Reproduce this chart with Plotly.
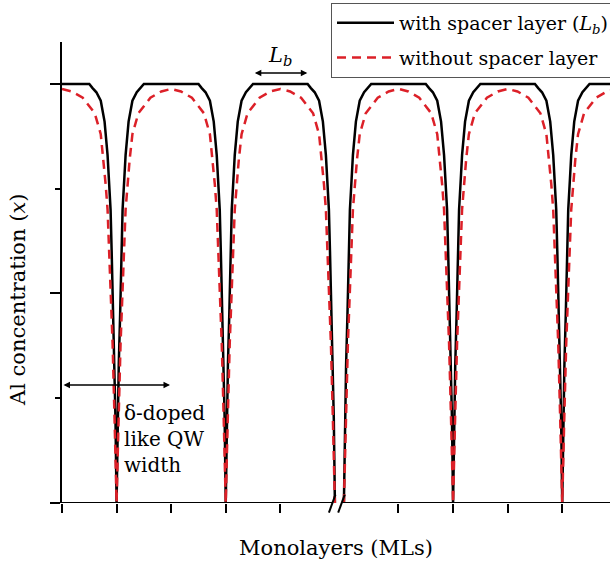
import plotly.graph_objects as go

# Half-well profiles: distance from a dip centre (in tick units) -> Al fraction
spacer_d = [0, 0.02, 0.04, 0.065, 0.09, 0.11, 0.14, 0.165, 0.22, 0.29, 0.37, 0.44, 0.5, 1.0]
spacer_x = [0, 0.2, 0.33, 0.45, 0.6, 0.7, 0.77, 0.83, 0.91, 0.96, 0.98, 0.99, 1.0, 1.0]
nospacer_d = [0, 0.037, 0.073, 0.165, 0.2, 0.24, 0.29, 0.4, 0.62, 0.82, 1.0]
nospacer_x = [0, 0.2, 0.38, 0.7, 0.76, 0.82, 0.88, 0.93, 0.967, 0.982, 0.988]

# dip (delta-doped) positions on the two sides of the axis break
left_dips = [1, 3, 5]
right_dips = [5.165, 7.165, 9.165]
tick_pos = [0, 1, 2, 3, 4, 6.165, 7.165, 8.165, 9.165]
break_pos = [4.89, 5.06]

legend_names = ["with spacer layer (<i>L<sub>b</sub></i>)", "without spacer layer"]


def build(d, v, dips, start_left, end_right):
    xs, ys = [], []
    for i, dip in enumerate(dips):
        if i > 0 or start_left:
            for dd, vv in zip(reversed(d), reversed(v)):
                xs.append(dip - dd)
                ys.append(vv)
        if i < len(dips) - 1 or end_right:
            for dd, vv in zip(d, v):
                xs.append(dip + dd)
                ys.append(vv)
    return xs, ys


def curve(d, v):
    x1, y1 = build(d, v, left_dips, True, False)
    x2, y2 = build(d, v, right_dips, False, True)
    return x1 + [None] + x2, y1 + [None] + y2


bx, by = curve(spacer_d, spacer_x)
rx, ry = curve(nospacer_d, nospacer_x)

fig = go.Figure()
fig.add_trace(go.Scatter(x=bx, y=by, mode="lines", name=legend_names[0], legendgroup="a",
                         line=dict(color="black", width=2.5)))
fig.add_trace(go.Scatter(x=rx, y=ry, mode="lines", name=legend_names[1], legendgroup="b",
                         line=dict(color="#dc2028", width=2.5, dash="9px,6px")))

serif = "DejaVu Serif"
X0, X1 = 0, 548 / 54.58

fig.update_layout(
    width=610, height=569,
    margin=dict(l=62, r=0, t=42, b=66, autoexpand=False),
    plot_bgcolor="white", paper_bgcolor="white",
    font=dict(family=serif, size=19, color="black"),
    showlegend=True,
    legend=dict(x=(331 - 62) / 548, y=(503 - 3) / 461, xanchor="left", yanchor="top",
                bordercolor="#555", borderwidth=1, bgcolor="white",
                font=dict(family=serif, size=19, color="black"), itemwidth=57,
                tracegroupgap=7),
    xaxis=dict(range=[X0, X1], showline=False, zeroline=False, showgrid=False,
               tickvals=tick_pos, showticklabels=False, ticks="outside",
               ticklen=9, tickwidth=2, tickcolor="black"),
    yaxis=dict(range=[0, 1.1], showline=True, linecolor="black", linewidth=2,
               zeroline=False, showgrid=False, tickvals=[0, 0.5, 1],
               showticklabels=False, ticks="outside", ticklen=10, tickwidth=2,
               tickcolor="black",
               minor=dict(tickvals=[0.25, 0.75], ticks="outside", ticklen=5,
                          tickwidth=2, tickcolor="black")),
)

# broken x axis line
fig.add_shape(type="line", xref="x", yref="y", x0=X0, x1=break_pos[0] + 0.06, y0=0, y1=0,
              line=dict(color="black", width=2))
fig.add_shape(type="line", xref="x", yref="y", x0=break_pos[1] + 0.06, x1=X1, y0=0, y1=0,
              line=dict(color="black", width=2))
for bp in break_pos:
    fig.add_shape(type="line", xref="x", yref="paper", x0=bp, x1=bp + 0.12,
                  y0=-0.021, y1=0.018, line=dict(color="black", width=2))

# L_b annotation and arrow
fig.add_annotation(x=4, y=1.066, xref="x", yref="y", text="<i>L<sub>b</sub></i>",
                   showarrow=False, font=dict(family=serif, size=21))
fig.add_annotation(x=4.495, y=1.026, ax=3.505, ay=1.026, xref="x", yref="y",
                   axref="x", ayref="y", text="", showarrow=True, arrowside="end+start",
                   arrowhead=2, arrowsize=1, arrowwidth=1.3, arrowcolor="black")

# delta-doped QW width arrow and text
fig.add_annotation(x=1.979, y=0.2816, ax=0.0, ay=0.2816, xref="x", yref="y",
                   axref="x", ayref="y", text="", showarrow=True, arrowside="end+start",
                   arrowhead=2, arrowsize=1, arrowwidth=1.3, arrowcolor="black")
fig.add_annotation(x=1.1, y=(503 - 399) / 419, xref="x", yref="y", xanchor="left",
                   yanchor="top", align="left", text="δ-doped<br>like QW<br>width",
                   showarrow=False, font=dict(family=serif, size=20))

# axis titles
fig.add_annotation(x=0.5, y=(503 - 548) / 461, xref="paper", yref="paper",
                   text="Monolayers (MLs)", showarrow=False, yanchor="middle",
                   font=dict(family=serif, size=21))
fig.add_annotation(x=(18 - 62) / 548, y=(503 - 300) / 461, xref="paper", yref="paper",
                   text="Al concentration (<i>x</i>)", textangle=-90, showarrow=False,
                   xanchor="center", yanchor="middle", font=dict(family=serif, size=21))

fig.write_html("out.html")
